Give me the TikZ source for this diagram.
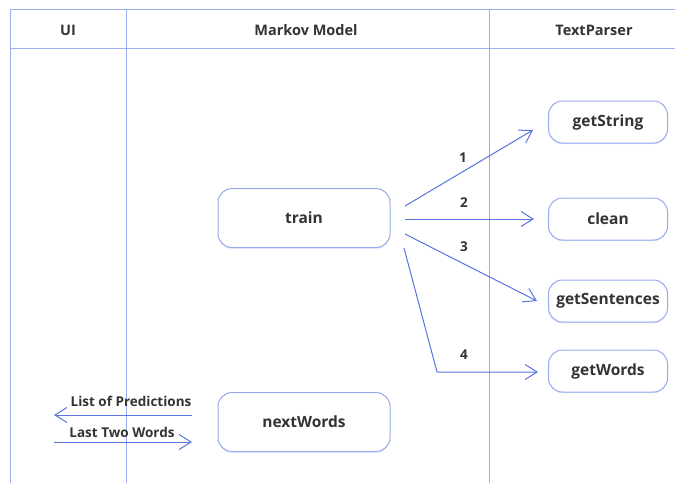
\documentclass[tikz,border=0pt]{standalone}
\usepackage{fontspec}
\setmainfont{Open Sans}
\usetikzlibrary{arrows.meta,shadows}
\definecolor{lane}{HTML}{9AAEF0}
\definecolor{flow}{HTML}{5775DC}
\definecolor{boxline}{HTML}{97ABEE}
\definecolor{ink}{HTML}{333333}
\tikzset{
  func/.style={draw=boxline, line width=1pt, rounded corners=14pt, fill=white,
    drop shadow={shadow xshift=0pt, shadow yshift=-1.2pt, fill=boxline, opacity=0.35},
    minimum width=#1, minimum height=42pt, inner sep=0pt,
    font=\fontsize{15.5}{17}\selectfont\bfseries, text=ink},
  func/.default=119pt,
  big/.style={func=172pt, minimum height=59pt},
  flowarrow/.style={draw=flow, line width=1pt, -{Straight Barb[length=12pt, width=15pt, line width=1pt]}},
  lbl/.style={font=\fontsize{13.5}{15}\selectfont\bfseries, text=ink, inner sep=1pt},
  head/.style={font=\fontsize{14.5}{16}\selectfont\bfseries, text=ink},
}
\begin{document}
\begin{tikzpicture}[x=1pt, y=-1pt]
\useasboundingbox (0,0) rectangle (675,483);
% swimlane frame
\draw[lane, line width=1pt] (675,9) -- (10,9) -- (10,483);
\draw[lane, line width=1pt] (10,48) -- (675,48);
\draw[lane, line width=1pt] (126,9) -- (126,483);
\draw[lane, line width=1pt] (489,9) -- (489,483);
% lane titles
\node[head] (hui) at (68,30) {UI};
\node[head] (hmm) at (306,30) {Markov Model};
\node[head] (htp) at (594,30) {TextParser};
% functions
\node[big] (train) at (304,218) {train};
\node[big] (next) at (304,422) {nextWords};
\node[func] (gs) at (608,122) {getString};
\node[func] (cl) at (608,219) {clean};
\node[func] (gse) at (608,301) {getSentences};
\node[func] (gw) at (608,371) {getWords};
% call order from train
\coordinate (t1) at (405,206);
\coordinate (t2) at (405,219);
\coordinate (t3) at (405,234);
\coordinate (t4) at (404,248);
\coordinate (e1) at (533,130);
\coordinate (e2) at (534,219);
\coordinate (e3) at (537,301);
\coordinate (e4) at (538,372);
\coordinate (bend) at (437,372);
\draw[flowarrow] (t1) -- (e1);
\draw[flowarrow] (t2) -- (e2);
\draw[flowarrow] (t3) -- (e3);
\draw[flowarrow] (t4) -- (bend) -- (e4);
\node[lbl] (n1) at (463,158) {1};
\node[lbl] (n2) at (464,203) {2};
\node[lbl] (n3) at (464,247) {3};
\node[lbl] (n4) at (464,355) {4};
% UI exchange with nextWords
\coordinate (pin) at (192,415);
\coordinate (pout) at (54,415);
\coordinate (win) at (54,442);
\coordinate (wout) at (192,442);
\draw[flowarrow] (pin) -- (pout);
\draw[flowarrow] (win) -- (wout);
\node[lbl] (lp) at (131,401) {List of Predictions};
\node[lbl] (lw) at (122,432) {Last Two Words};
\end{tikzpicture}
\end{document}
